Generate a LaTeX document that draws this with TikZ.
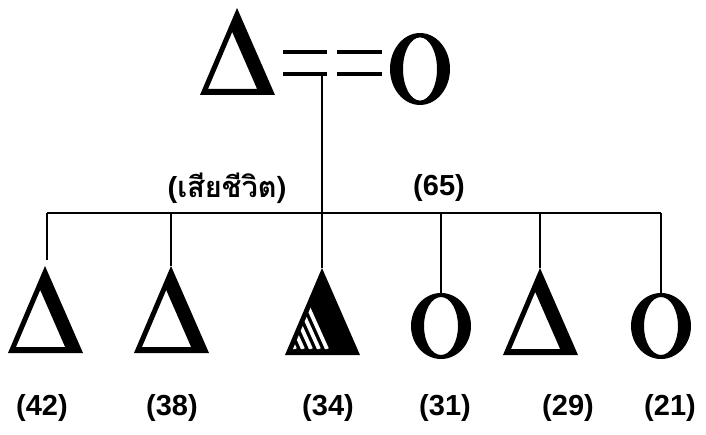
\documentclass[tikz,border=0pt]{standalone}
\usepackage{fontspec}
\setmainfont{Liberation Sans}
\newfontfamily\thaifont[Script=Thai]{Loma}
\usetikzlibrary{calc}

\tikzset{
  male/.pic={
    \fill[even odd rule] (0,0) -- (-37,87) -- (38,87) -- cycle
      (-4.8,24) -- (-29,81) -- (20.1,81) -- cycle;
    \coordinate (-top) at (0,0);
  },
  malemark/.pic={
    \fill (0,0) -- (-37,87) -- (38,87) -- cycle;
    \begin{scope}
      \clip (-4.8,24) -- (-29,81) -- (20.1,81) -- cycle;
      \foreach \bx in {-27,-19,-11,-3,5}
        \draw[white,line width=3.8] (\bx,81) -- ++(-45,-100);
    \end{scope}
    \coordinate (-top) at (0,0);
  },
  female/.pic={
    \fill[even odd rule] (0,0) ellipse[x radius=30pt,y radius=33pt]
      (0,0) ellipse[x radius=17pt,y radius=29pt];
    \coordinate (-top) at (0,-33);
  },
  lbl/.style={font=\fontsize{29}{34}\selectfont\bfseries,inner sep=0pt},
  wedline/.style={line width=3.6pt},
  bar/.style={line width=2pt},
  drop/.style={line width=1.5pt}
}

\begin{document}
\begin{tikzpicture}[x=1pt,y=-1pt]
  \useasboundingbox (0,0) rectangle (706,435);
  % parents
  \pic (fa) at (237,8) {male};
  \pic[yscale=1.09] (mo) at (420,69) {female};
  \coordinate (wed) at (322,74);
  \draw[wedline] (wed) ++(-39,-22) -- ++(44,0) ++(10,0) -- ++(45,0);
  \draw[wedline] (wed) ++(-39,0) -- ++(44,0) ++(10,0) -- ++(45,0);
  \node[lbl] (dead) at (227,188) {(\thaifont เสียชีวิต)};
  \node[lbl] (age-mo) at (439,188) {(65)};

  % children
  \pic (c1) at (45,266) {male};
  \pic (c2) at (171,266) {male};
  \pic (c3) at (322,268) {malemark};
  \pic (c4) at (441,326) {female};
  \pic (c5) at (540,268) {male};
  \pic (c6) at (661,326) {female};

  \coordinate (barL) at (47,213);
  \coordinate (barR) at (661,213);
  \draw[bar] (barL) -- (barR);
  \draw[drop] (barL) -- ++(0,47);
  \draw[drop] (wed) -- (c3-top);
  \foreach \c in {c2,c4,c5,c6}
    \draw[drop] (\c-top |- barL) -- (\c-top);

  \foreach \c/\age/\x in {c1/42/42,c2/38/172,c3/34/328,c4/31/445,c5/29/568,c6/21/670}
    \node[lbl] (age-\c) at (\x,408) {(\age)};
\end{tikzpicture}
\end{document}
